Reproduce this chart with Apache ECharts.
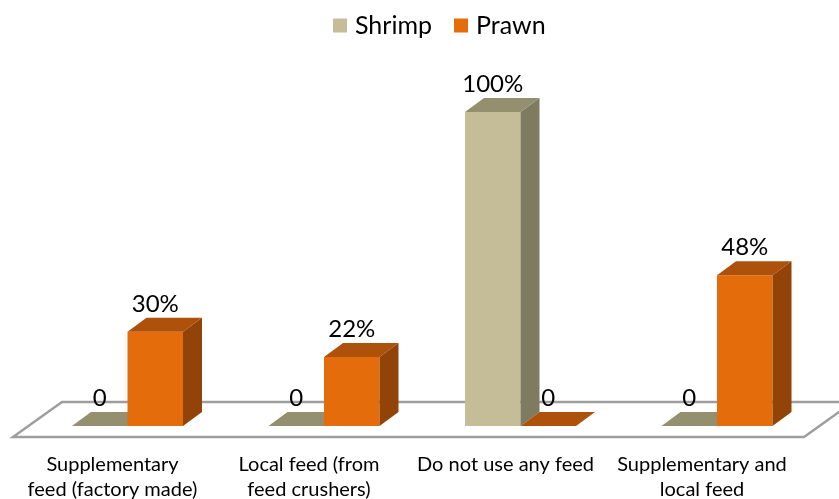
<!DOCTYPE html>
<html>
<head>
<meta charset="utf-8">
<script src="https://cdn.jsdelivr.net/npm/echarts@6/dist/echarts.min.js"></script>
<style>
  html, body { margin: 0; padding: 0; background: #fff; }
  #chart { width: 839px; height: 499px; }
</style>
</head>
<body>
<div id="chart"></div>
<script>
// Feeding practice by culture type (percent of farms)
const categories = [
  'Supplementary\nfeed (factory made)',
  'Local feed (from\nfeed crushers)',
  'Do not use any feed',
  'Supplementary and\nlocal feed'
];
const seriesNames = ['Shrimp', 'Prawn'];
const shrimpValues = [0, 0, 100, 0];
const prawnValues = [30, 22, 0, 48];

// Face colours for each series: front, top, side
const palette = {
  Shrimp: { front: '#C4BD97', top: '#948F6F', side: '#7F7B60' },
  Prawn:  { front: '#E46C0A', top: '#AE510A', side: '#914308' }
};

const FONT = 'Lato, "Open Sans", sans-serif';
const DEPTH_X = 19;
const DEPTH_Y = -14;

function labelText(v) {
  return v === 0 ? '0' : v + '%';
}

function makeRenderItem(name, offsetSign) {
  const col = palette[name];
  return function (params, api) {
    const cat = api.value(0);
    const val = api.value(1);
    const base = api.coord([cat, 0]);
    const top = api.coord([cat, val]);
    const band = api.size([1, 0])[0];
    const w = band * 0.2825;
    const x0 = base[0] + offsetSign * w;
    const x1 = x0 + w;
    const yb = base[1];
    const yt = top[1];
    const children = [];
    if (yb - yt > 0.5) {
      children.push({
        type: 'rect',
        shape: { x: x0, y: yt, width: w, height: yb - yt },
        style: { fill: col.front }
      });
      children.push({
        type: 'polygon',
        shape: { points: [[x1, yb], [x1 + DEPTH_X, yb + DEPTH_Y], [x1 + DEPTH_X, yt + DEPTH_Y], [x1, yt]] },
        style: { fill: col.side }
      });
    }
    children.push({
      type: 'polygon',
      shape: { points: [[x0, yt], [x1, yt], [x1 + DEPTH_X, yt + DEPTH_Y], [x0 + DEPTH_X, yt + DEPTH_Y]] },
      style: { fill: col.top }
    });
    children.push({
      type: 'text',
      style: {
        text: labelText(val),
        x: (x0 + x1) / 2,
        y: yt - 28,
        align: 'center',
        verticalAlign: 'middle',
        fontSize: 24,
        fontFamily: FONT,
        fill: '#000'
      }
    });
    return { type: 'group', children: children };
  };
}

const chart = echarts.init(document.getElementById('chart'), null, { renderer: 'canvas' });

chart.setOption({
  animation: false,
  backgroundColor: '#fff',
  color: [palette.Shrimp.front, palette.Prawn.front],
  legend: {
    data: seriesNames,
    top: 13,
    left: 333,
    padding: 0,
    icon: 'rect',
    itemWidth: 14,
    itemHeight: 14,
    itemGap: 22,
    textStyle: { fontSize: 25, fontFamily: FONT, color: '#000', padding: [0, 0, 0, 3] }
  },
  grid: { left: 29.25, top: 112, width: 786, height: 314, outerBoundsMode: 'none', containLabel: false },
  xAxis: {
    type: 'category',
    data: categories,
    axisLine: { show: false },
    axisTick: { show: false },
    splitLine: { show: false },
    axisLabel: {
      interval: 0,
      margin: 26,
      fontSize: 20,
      lineHeight: 25,
      fontFamily: FONT,
      color: '#000',
      padding: [0, 30, 0, 0]
    }
  },
  yAxis: { type: 'value', min: 0, max: 100, show: false },
  graphic: [{
    type: 'polygon',
    z: 0,
    shape: { points: [[13, 437], [62, 402], [853, 402], [804, 437]] },
    style: { fill: '#fff', stroke: '#9E9E9E', lineWidth: 2.5 }
  }],
  series: [
    {
      name: 'Shrimp',
      type: 'custom',
      z: 5,
      renderItem: makeRenderItem('Shrimp', -1),
      data: shrimpValues.map((v, i) => [i, v])
    },
    {
      name: 'Prawn',
      type: 'custom',
      z: 5,
      renderItem: makeRenderItem('Prawn', 0),
      data: prawnValues.map((v, i) => [i, v])
    }
  ]
});
</script>
</body>
</html>
